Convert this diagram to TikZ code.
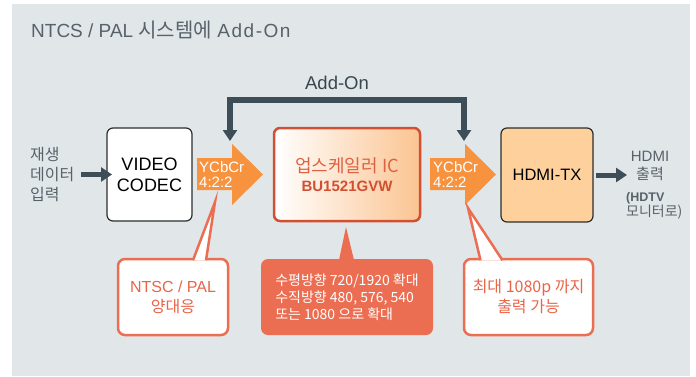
\documentclass[tikz,border=0pt]{standalone}
\usepackage{fontspec}
\setmainfont{Liberation Sans}
\newfontfamily\kr{Noto Sans CJK KR}
\usepackage{tikz}
\usetikzlibrary{arrows.meta,calc}

\definecolor{panel}{RGB}{225,230,233}
\definecolor{darkline}{RGB}{62,78,88}
\definecolor{boxline}{RGB}{45,45,45}
\definecolor{ycc}{RGB}{247,146,62}
\definecolor{chipred}{RGB}{210,80,50}
\definecolor{chiptext}{RGB}{222,98,66}
\definecolor{gradpeach}{RGB}{251,196,146}
\definecolor{peach}{RGB}{253,208,156}
\definecolor{callred}{RGB}{236,110,82}
\definecolor{calltext}{RGB}{234,100,72}
\definecolor{graytext}{RGB}{88,98,106}

\begin{document}
\begin{tikzpicture}[x=1bp,y=-1bp,
    >={Triangle[width=14bp,length=11bp]},
    blk/.style={draw=#1, rounded corners=6bp, inner sep=0pt, outer sep=0pt, align=center},
    callout/.style={rounded corners=7bp, line width=2.5bp, minimum height=76bp, inner sep=0pt, outer sep=0pt},
    ycctext/.style={anchor=west, align=left, text=white, inner sep=0pt, font=\fontsize{15bp}{15bp}\selectfont},
    heavy/.style={draw=darkline, line width=#1, line join=miter},
  ]
  \useasboundingbox (0,0) rectangle (696,376);
  \fill[panel] (12,4) rectangle (690,376);

  \node[anchor=base west, inner sep=0pt, text=graytext, font=\fontsize{19bp}{22bp}\selectfont] (title) at (31,37) {NTCS / PAL {\kr\fontsize{20bp}{22bp}\selectfont 시스템에} {\addfontfeature{LetterSpace=8}Add-On}};

  % blocks
  \node[blk=boxline, fill=white, line width=1.2bp, minimum width=85bp, minimum height=93bp, font=\fontsize{18bp}{21bp}\selectfont] (codec) at (149.5,174.5) {VIDEO\\CODEC};
  \node[blk=chipred, line width=2.5bp, left color=white, right color=gradpeach, minimum width=146bp, minimum height=93bp, font=\fontsize{15bp}{19bp}\selectfont] (scaler) at (347,174.5) {{\kr\fontsize{18bp}{20bp}\selectfont\color{chiptext}업스케일러 IC}\\{\bfseries\color{chipred}BU1521GVW}};
  \node[blk=boxline, fill=peach, line width=1.2bp, minimum width=92bp, minimum height=94bp, font=\fontsize{16.5bp}{20bp}\selectfont] (tx) at (547,175) {HDMI-TX};

  % YCbCr arrows
  \fill[ycc] (197,158) -- (232,158) -- (232,144) -- (263,174.5) -- (232,205) -- (232,190) -- (197,190) -- cycle;
  \fill[ycc] (430,158) -- (465,158) -- (465,144) -- (496,174.5) -- (465,205) -- (465,190) -- (430,190) -- cycle;
  \node[ycctext] (ycc1) at (199,174.5) {YCbCr\\4:2:2};
  \node[ycctext] (ycc2) at (433,174.5) {YCbCr\\4:2:2};

  % add-on path
  \coordinate (in1) at (230,141);
  \coordinate (in2) at (464,141);
  \coordinate (bus) at (347,100);
  \draw[heavy=6bp, <->] (in1) |- (bus) -| (in2);
  \node[text=darkline!90!black, inner sep=0pt, font=\fontsize{18.5bp}{20bp}\selectfont] (addon) at (337,83) {Add-On};

  % in / out
  \node[anchor=west, align=left, text=graytext, inner sep=0pt, font=\kr\fontsize{16bp}{20bp}\selectfont] (input) at (30,175) {재생\\데이터\\입력};
  \coordinate (src) at (81,174.5);
  \draw[heavy=5bp, ->] (src) -- ([xshift=5bp]codec.west);

  \coordinate (dst) at (627,175);
  \draw[heavy=5bp, ->] ([xshift=3bp]tx.east) -- (dst);
  \node[align=center, text=graytext, inner sep=0pt, font=\fontsize{15bp}{18bp}\selectfont] (hdmi) at (650,166) {HDMI\\{\kr 출력}};
  \node[anchor=north west, align=left, text=graytext, inner sep=0pt, font=\fontsize{14bp}{15bp}\selectfont] (hdtv) at (626,192) {{\bfseries\fontsize{12.5bp}{14bp}\selectfont(HDTV}\\{\kr 모니터로)}};

  % callouts
  \node[callout, draw=callred, fill=white, minimum width=110bp, align=center, text=calltext, font=\fontsize{16bp}{20bp}\selectfont] (note1) at (173,297) {NTSC / PAL\\{\kr 양대응}};
  \coordinate (tip1) at (215,202);
  \path[fill=white, draw=callred, line width=2.5bp] ($(note1.north)+(20,1.25)$) -- (tip1) -- ($(note1.north)+(33,1.25)$);

  \node[callout, fill=callred, minimum width=172bp, align=left, text=white, font=\kr\fontsize{14bp}{17bp}\selectfont] (note2) at (347,297) {수평방향 720/1920 확대\\수직방향 480, 576, 540\\또는 1080 으로 확대};
  \coordinate (tip2) at (346,227);
  \fill[callred] ($(note2.north)+(-8,1)$) -- (tip2) -- ($(note2.north)+(7,1)$) -- cycle;

  \node[callout, draw=callred, fill=white, minimum width=129bp, align=center, text=calltext, font=\kr\fontsize{16bp}{20bp}\selectfont] (note3) at (528.5,297) {최대 1080p 까지\\출력 가능};
  \coordinate (tip3) at (468,208);
  \path[fill=white, draw=callred, line width=2.5bp] ($(note3.north)+(-48,1.25)$) -- (tip3) -- ($(note3.north)+(-26,1.25)$);
\end{tikzpicture}
\end{document}
